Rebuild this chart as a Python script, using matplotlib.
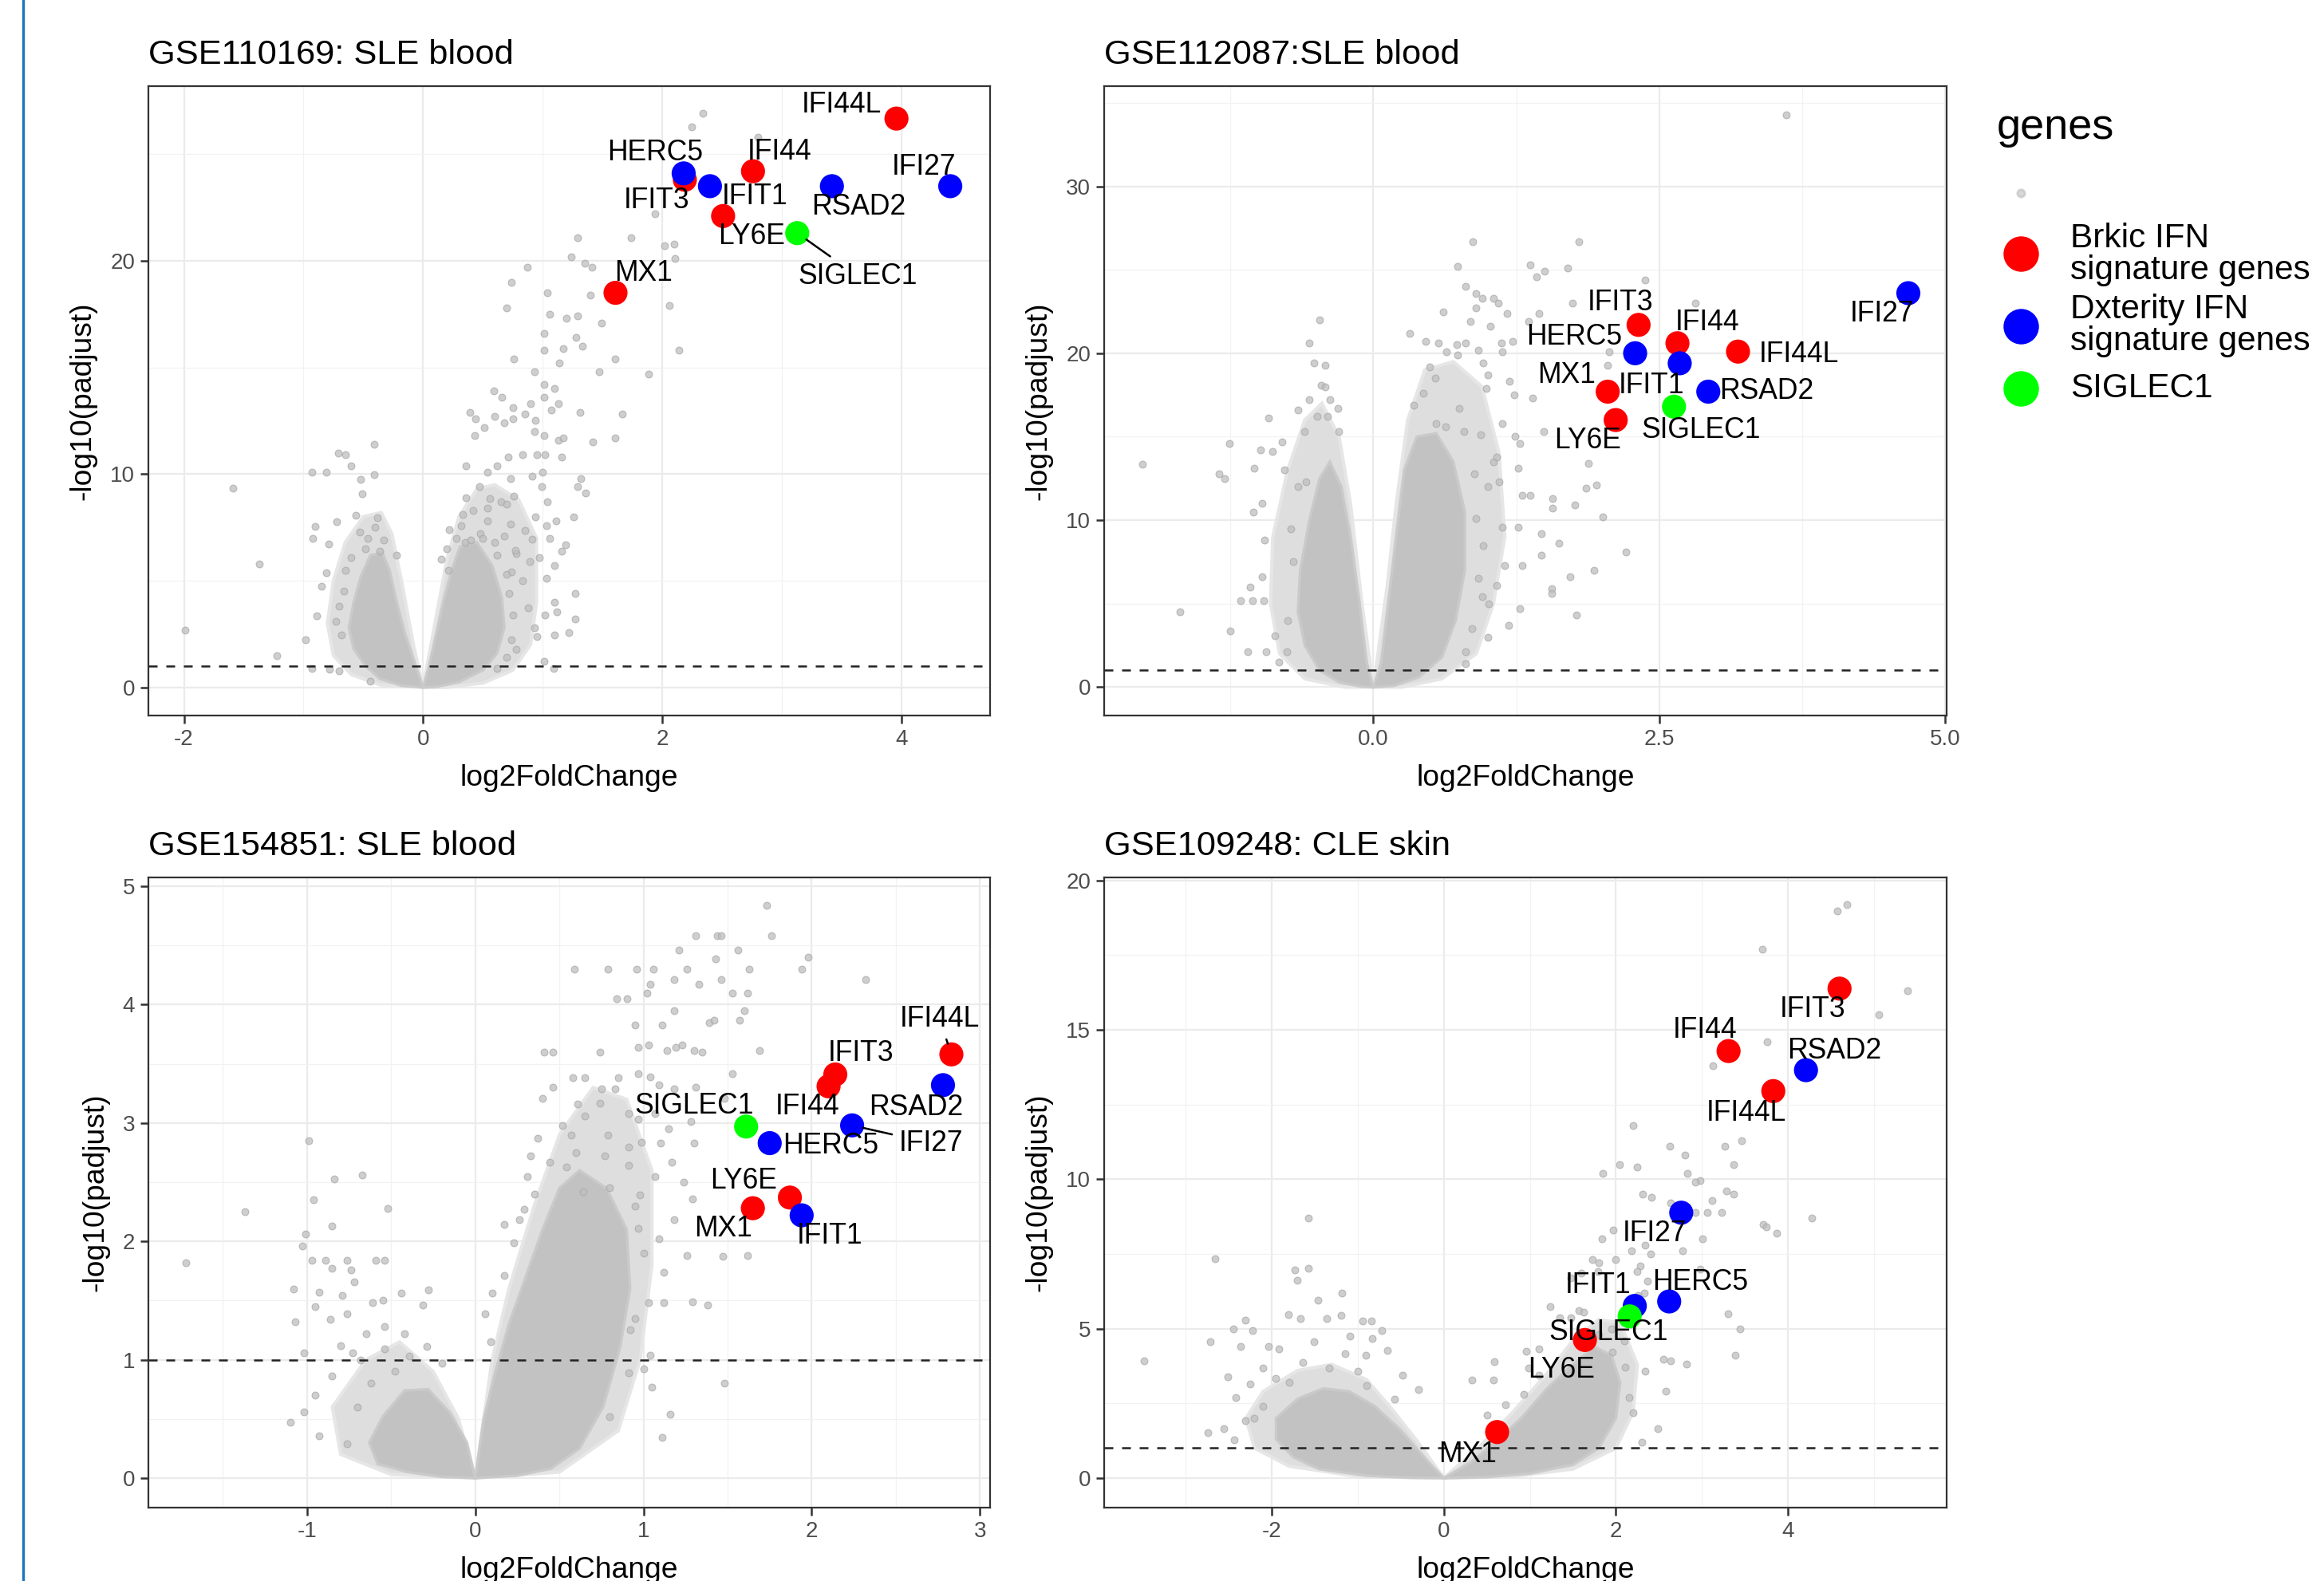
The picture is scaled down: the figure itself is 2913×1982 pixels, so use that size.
import matplotlib
matplotlib.use('Agg')
import matplotlib.pyplot as plt
from matplotlib.lines import Line2D

plt.rcParams['font.family'] = ['Liberation Sans', 'DejaVu Sans']

# ---- data ----
genes = ['IFI44L', 'IFI44', 'IFIT3', 'LY6E', 'MX1',
         'HERC5', 'IFIT1', 'RSAD2', 'IFI27', 'SIGLEC1']
gene_group = ['Brkic', 'Brkic', 'Brkic', 'Brkic', 'Brkic',
              'Dxterity', 'Dxterity', 'Dxterity', 'Dxterity', 'SIGLEC1']
group_names = ['Brkic', 'Dxterity', 'SIGLEC1']
group_labels = ['Brkic IFN\nsignature genes', 'Dxterity IFN\nsignature genes', 'SIGLEC1']

titles = ['GSE110169: SLE blood', 'GSE112087:SLE blood',
          'GSE154851: SLE blood', 'GSE109248: CLE skin']

# highlighted genes, same order as `genes`
p1_lfc = [3.96, 2.76, 2.19, 2.51, 1.61, 2.18, 2.40, 3.42, 4.41, 3.13]
p1_padj = [26.67, 24.2, 23.8, 22.1, 18.5, 24.1, 23.5, 23.5, 23.5, 21.3]
p2_lfc = [3.19, 2.66, 2.32, 2.12, 2.05, 2.29, 2.68, 2.93, 4.68, 2.63]
p2_padj = [20.1, 20.6, 21.7, 16.0, 17.7, 20.0, 19.4, 17.7, 23.6, 16.8]
p3_lfc = [2.83, 2.10, 2.14, 1.87, 1.65, 1.75, 1.94, 2.78, 2.24, 1.61]
p3_padj = [3.58, 3.31, 3.41, 2.37, 2.28, 2.83, 2.22, 3.32, 2.98, 2.97]
p4_lfc = [3.83, 3.31, 4.60, 1.64, 0.62, 2.62, 2.22, 4.21, 2.76, 2.16]
p4_padj = [12.95, 14.29, 16.38, 4.62, 1.54, 5.91, 5.76, 13.65, 8.88, 5.41]

# dense core of the grey cloud (outline of the left and right lobes)
p1_core_l = [(0, 0), (-0.06, 1.0), (-0.15, 2.5), (-0.22, 4.0), (-0.28, 5.5), (-0.34, 6.3),
             (-0.44, 6.2), (-0.52, 5.2), (-0.58, 4.0), (-0.62, 2.8), (-0.58, 1.8),
             (-0.48, 1.0), (-0.36, 0.4), (-0.18, 0.08)]
p1_core_r = [(0, 0), (0.05, 1.0), (0.11, 2.5), (0.17, 4.0), (0.24, 5.5), (0.31, 6.6),
             (0.45, 6.8), (0.58, 5.7), (0.66, 4.2), (0.68, 2.8), (0.62, 1.6),
             (0.5, 0.8), (0.3, 0.25), (0.12, 0.03)]
p2_core_l = [(0, 0), (-0.06, 1.5), (-0.12, 5.0), (-0.2, 9.0), (-0.28, 12.0), (-0.38, 13.5),
             (-0.47, 12.5), (-0.56, 10.0), (-0.64, 7.0), (-0.66, 4.5), (-0.6, 2.5),
             (-0.47, 1.0), (-0.3, 0.3), (-0.12, 0.05)]
p2_core_r = [(0, 0), (0.07, 1.5), (0.13, 5.0), (0.2, 9.0), (0.27, 13.0), (0.38, 15.0),
             (0.55, 15.2), (0.7, 13.5), (0.8, 10.5), (0.8, 7.0), (0.72, 4.0),
             (0.6, 1.8), (0.4, 0.6), (0.18, 0.08)]
p3_core_l = [(0, 0), (-0.05, 0.3), (-0.15, 0.55), (-0.28, 0.75), (-0.42, 0.74), (-0.55, 0.52),
             (-0.63, 0.3), (-0.58, 0.12), (-0.4, 0.05), (-0.2, 0.01)]
p3_core_r = [(0, 0), (0.05, 0.5), (0.12, 0.9), (0.2, 1.3), (0.3, 1.7), (0.4, 2.1), (0.5, 2.45),
             (0.62, 2.6), (0.78, 2.45), (0.9, 2.1), (0.92, 1.6), (0.86, 1.1), (0.76, 0.6),
             (0.62, 0.25), (0.45, 0.08), (0.25, 0.02)]
p4_core_l = [(0, 0), (-0.2, 0.6), (-0.5, 1.6), (-0.8, 2.4), (-1.1, 2.9), (-1.4, 3.0),
             (-1.7, 2.65), (-1.95, 2.0), (-1.95, 1.3), (-1.75, 0.7), (-1.45, 0.3),
             (-0.9, 0.08), (-0.4, 0.01)]
p4_core_r = [(0, 0), (0.3, 0.5), (0.6, 1.2), (0.9, 2.0), (1.2, 3.0), (1.5, 3.8), (1.75, 4.4),
             (1.95, 4.1), (2.05, 3.2), (2.0, 2.0), (1.8, 1.0), (1.5, 0.45), (1.0, 0.15),
             (0.5, 0.03)]

# medium-density zone around each core
p1_halo_l = [(0, 0), (-0.08, 2.0), (-0.18, 5.0), (-0.26, 7.2), (-0.35, 8.2), (-0.5, 8.0),
             (-0.65, 6.8), (-0.75, 5.0), (-0.8, 3.0), (-0.75, 1.5), (-0.6, 0.6), (-0.35, 0.1)]
p1_halo_r = [(0, 0), (0.1, 3.0), (0.2, 6.0), (0.3, 8.0), (0.45, 9.3), (0.6, 9.5), (0.8, 8.8),
             (0.95, 7.0), (0.95, 4.0), (0.9, 2.0), (0.75, 0.8), (0.5, 0.2), (0.2, 0)]
p2_halo_l = [(0, 0), (-0.1, 5.0), (-0.2, 11.0), (-0.3, 15.0), (-0.45, 17.0), (-0.6, 16.0),
             (-0.75, 13.0), (-0.88, 9.0), (-0.9, 5.0), (-0.82, 2.0), (-0.6, 0.5), (-0.25, 0)]
p2_halo_r = [(0, 0), (0.12, 6.0), (0.2, 11.0), (0.3, 16.0), (0.45, 19.0), (0.7, 19.5),
             (0.95, 18.0), (1.1, 14.0), (1.15, 9.0), (1.05, 5.0), (0.9, 2.0), (0.6, 0.5),
             (0.25, 0)]
p3_halo_l = [(0, 0), (-0.1, 0.5), (-0.25, 0.9), (-0.45, 1.15), (-0.65, 1.0), (-0.85, 0.6),
             (-0.8, 0.2), (-0.5, 0.03)]
p3_halo_r = [(0, 0), (0.1, 1.0), (0.2, 1.6), (0.35, 2.3), (0.5, 2.9), (0.7, 3.3), (0.9, 3.2),
             (1.05, 2.6), (1.05, 1.8), (0.98, 1.0), (0.85, 0.4), (0.5, 0.05)]
p4_halo_l = [(0, 0), (-0.3, 1.2), (-0.6, 2.3), (-0.9, 3.3), (-1.3, 3.8), (-1.7, 3.6),
             (-2.1, 2.9), (-2.3, 2.0), (-2.2, 1.0), (-1.8, 0.4), (-1.0, 0.05)]
p4_halo_r = [(0, 0), (0.4, 1.0), (0.8, 2.2), (1.2, 3.5), (1.5, 4.6), (1.8, 5.3), (2.05, 5.2),
             (2.25, 3.8), (2.2, 2.2), (2.0, 1.0), (1.5, 0.3), (0.8, 0.05)]

# sparse grey genes outside the dense core
p1_bg = [(-1.99, 2.7), (-1.59, 9.34), (-1.37, 5.79), (-1.22, 1.47), (-0.98, 2.25), (-0.93, 10.1),
         (-0.81, 10.07), (-0.71, 11.0), (-0.65, 10.9), (-0.60, 10.4), (-0.41, 11.4), (-0.41, 9.96),
         (-0.52, 9.76), (-0.51, 9.09), (-0.56, 8.05), (-0.90, 7.56), (-0.72, 7.77), (-0.38, 7.94),
         (-0.92, 7.0), (-0.79, 6.74), (-0.89, 3.37), (-0.85, 4.75), (-0.81, 5.37), (-0.93, 0.88),
         (-0.78, 0.84), (-0.70, 0.77), (-0.44, 0.28), (-0.22, 6.18), (-0.68, 2.46), (-0.73, 3.09),
         (-0.53, 7.3), (-0.46, 7.0), (-0.40, 7.5), (-0.33, 6.9), (-0.48, 6.5), (-0.36, 6.4),
         (-0.60, 6.1), (-0.65, 5.5), (-0.66, 4.5), (-0.70, 3.8),
         (0.36, 10.4), (0.39, 12.9), (0.44, 12.6), (0.51, 12.2), (0.43, 11.8), (0.59, 13.9),
         (0.66, 13.6), (0.60, 12.7), (0.68, 12.4), (0.75, 13.1), (0.75, 12.6), (0.85, 12.8),
         (0.90, 13.3), (0.94, 12.5), (0.93, 12.0), (1.01, 11.8), (1.07, 13.0), (1.13, 13.3),
         (1.10, 14.0), (1.01, 14.2), (1.01, 13.6), (0.93, 14.8), (0.76, 15.4), (1.01, 15.8),
         (1.14, 15.2), (1.17, 15.9), (1.28, 16.4), (1.33, 16.0), (1.47, 14.8), (1.61, 15.4),
         (1.89, 14.7), (2.14, 15.8), (1.01, 16.6), (1.06, 17.5), (1.20, 17.3), (1.29, 17.4),
         (1.49, 17.1), (0.70, 17.8), (1.04, 18.5), (1.40, 18.4), (0.74, 19.0), (0.87, 19.7),
         (1.24, 20.2), (1.35, 19.9), (1.41, 19.7), (2.06, 17.9), (2.11, 20.1), (2.02, 20.7),
         (2.34, 26.9), (2.25, 26.3), (2.80, 25.8), (1.94, 22.2), (1.29, 21.1), (1.74, 21.1),
         (2.10, 20.8), (1.31, 12.9), (1.67, 12.8), (1.42, 11.5), (1.61, 11.7), (1.13, 11.6),
         (1.17, 11.7), (0.71, 10.8), (0.95, 10.9), (1.02, 10.9), (1.16, 10.8), (0.83, 10.9),
         (1.00, 10.1), (0.91, 9.9), (0.54, 10.1), (0.62, 10.4), (0.73, 9.8), (0.99, 9.4),
         (1.32, 9.8), (1.29, 9.4), (1.36, 9.1), (1.26, 8.0), (1.04, 8.7), (0.94, 8.0),
         (1.11, 7.8), (1.03, 7.6), (1.06, 7.0), (1.19, 6.7), (1.16, 6.4), (0.97, 6.1),
         (0.89, 5.9), (1.10, 5.7), (1.03, 5.1), (1.27, 4.4), (1.10, 4.0), (1.12, 3.55),
         (1.02, 3.4), (1.27, 3.2), (1.22, 2.56), (1.10, 2.46), (0.95, 2.37), (0.93, 2.81),
         (1.01, 1.22), (1.09, 0.88), (0.78, 1.78), (0.74, 2.25), (0.88, 3.72), (0.83, 4.99),
         (0.74, 5.4), (0.78, 6.28), (0.85, 7.37), (0.91, 6.95), (0.77, 6.42), (0.73, 7.65),
         (0.56, 8.85), (0.36, 8.9), (0.47, 9.4), (0.54, 8.4), (0.65, 8.7), (0.70, 8.6),
         (0.76, 8.96), (0.33, 8.1), (0.42, 8.3), (0.22, 7.4), (0.32, 7.6), (0.21, 5.5),
         (0.54, 7.8), (0.60, 6.8), (0.68, 7.1), (0.35, 6.8), (0.48, 7.2), (0.15, 6.0),
         (0.20, 6.5), (0.28, 7.0), (0.40, 6.9), (0.50, 7.0), (0.62, 6.2), (0.70, 5.3),
         (0.72, 4.4), (0.75, 3.4), (0.70, 1.4), (0.62, 0.9)]
p2_bg = [(-2.02, 13.36), (-1.69, 4.53), (-1.35, 12.8), (-1.30, 12.5), (-1.26, 14.6), (-1.25, 3.36),
         (-1.16, 5.2), (-1.05, 10.5), (-0.97, 11.0), (-0.95, 8.8), (-0.99, 14.2), (-0.92, 16.1),
         (-0.88, 14.1), (-0.80, 14.7), (-0.78, 13.0), (-1.04, 13.1), (-0.66, 16.6), (-0.60, 15.3),
         (-0.56, 20.6), (-0.52, 19.4), (-0.42, 19.3), (-0.47, 22.0), (-0.46, 18.1), (-0.42, 18.0),
         (-0.56, 17.2), (-0.38, 17.2), (-0.31, 16.7), (-0.49, 16.2), (-0.40, 16.2), (-0.30, 15.3),
         (-0.97, 6.6), (-0.96, 5.2), (-1.08, 6.0), (-1.10, 2.1), (-0.94, 2.1), (-0.83, 1.5),
         (-0.76, 2.1), (-0.86, 3.1), (-0.66, 12.0), (-0.59, 12.3), (-1.06, 5.2), (-0.72, 9.5),
         (-0.70, 7.5), (-0.75, 4.0),
         (0.87, 26.7), (0.74, 25.2), (0.81, 24.0), (0.90, 23.6), (0.95, 23.3), (1.05, 23.3),
         (1.09, 23.0), (0.90, 22.7), (0.61, 22.5), (0.85, 21.9), (1.02, 21.6), (1.17, 22.4),
         (0.32, 21.2), (0.46, 20.7), (0.57, 20.6), (0.64, 20.1), (0.73, 20.5), (0.81, 20.6),
         (0.92, 20.2), (1.12, 20.6), (1.13, 20.1), (1.22, 20.7), (1.36, 21.9), (1.45, 22.4),
         (1.37, 25.3), (1.43, 24.6), (1.50, 24.9), (1.70, 25.1), (1.80, 26.7), (1.74, 23.0),
         (2.38, 24.4), (2.82, 23.0), (2.05, 19.3), (2.06, 20.1), (0.49, 19.2), (0.54, 18.5),
         (0.74, 19.9), (0.96, 19.4), (1.00, 18.7), (1.19, 18.3), (1.23, 17.5), (1.39, 17.3),
         (0.99, 17.9), (0.75, 16.7), (0.35, 16.9), (0.44, 17.6), (0.55, 15.8), (0.63, 15.6),
         (0.79, 15.3), (0.94, 15.1), (1.13, 15.8), (1.24, 15.0), (1.49, 15.3), (1.28, 14.6),
         (1.88, 13.4), (1.86, 11.9), (1.95, 12.1), (2.01, 10.2), (1.76, 10.9), (1.57, 11.3),
         (1.57, 10.7), (1.37, 11.5), (1.47, 9.2), (1.62, 8.6), (1.47, 7.9), (2.21, 8.1),
         (1.93, 7.0), (1.72, 6.6), (1.56, 5.9), (1.56, 5.6), (1.78, 4.3), (1.28, 4.7),
         (1.18, 3.7), (1.13, 9.6), (1.27, 9.6), (1.15, 7.3), (1.30, 7.3), (1.01, 5.0),
         (0.95, 5.4), (1.08, 6.1), (1.00, 3.0), (0.81, 1.4), (0.81, 2.1), (1.00, 12.0),
         (1.10, 12.3), (1.05, 13.5), (1.08, 13.8), (1.27, 13.1), (1.30, 11.5), (0.96, 8.5),
         (0.90, 10.1), (3.61, 34.3), (0.88, 12.8), (0.92, 6.5), (0.86, 3.5)]
p3_bg = [(-1.72, 1.82), (-1.37, 2.25), (-0.99, 2.85), (-0.84, 2.53), (-0.67, 2.56), (-0.52, 2.28),
         (-0.96, 2.35), (-0.85, 2.13), (-1.01, 2.06), (-1.03, 1.96), (-0.97, 1.84), (-0.89, 1.84),
         (-0.76, 1.84), (-0.59, 1.84), (-0.54, 1.84), (-0.85, 1.77), (-0.74, 1.76), (-0.72, 1.66),
         (-1.08, 1.6), (-0.93, 1.57), (-0.79, 1.54), (-1.07, 1.32), (-0.95, 1.45), (-0.61, 1.48),
         (-0.55, 1.50), (-0.44, 1.56), (-0.28, 1.59), (-0.31, 1.46), (-0.86, 1.34), (-0.76, 1.39),
         (-1.10, 0.47), (-1.02, 0.56), (-0.93, 0.36), (-0.95, 0.70), (-0.80, 1.12), (-0.73, 1.06),
         (-0.65, 1.22), (-0.76, 0.29), (-1.02, 1.06), (-0.85, 0.86), (-0.68, 1.0), (-0.54, 1.09),
         (-0.39, 1.03), (-0.54, 1.28), (-0.42, 1.22), (-0.29, 1.11), (-0.20, 0.97), (-0.62, 0.8),
         (-0.48, 0.9), (-0.7, 0.6),
         (1.73, 4.84), (1.31, 4.58), (1.44, 4.58), (1.46, 4.58), (1.76, 4.58), (1.21, 4.46),
         (1.56, 4.46), (1.43, 4.39), (1.98, 4.40), (0.59, 4.30), (0.79, 4.30), (0.96, 4.30),
         (1.06, 4.30), (1.26, 4.30), (1.63, 4.30), (1.94, 4.30), (2.32, 4.21), (1.18, 4.21),
         (1.33, 4.17), (1.46, 4.21), (1.04, 4.17), (1.02, 4.10), (1.53, 4.10), (1.62, 4.10),
         (0.84, 4.05), (0.90, 4.05), (1.60, 3.95), (0.95, 3.83), (1.11, 3.83), (1.18, 3.95),
         (1.39, 3.85), (1.57, 3.87), (1.69, 3.61), (1.42, 3.87), (0.97, 3.64), (1.03, 3.66),
         (1.19, 3.64), (1.23, 3.66), (1.30, 3.61), (1.35, 3.60), (0.41, 3.60), (0.46, 3.60),
         (0.74, 3.60), (1.14, 3.61), (1.53, 3.42), (0.97, 3.42), (1.04, 3.39), (0.85, 3.38),
         (0.58, 3.38), (0.65, 3.38), (0.75, 3.29), (0.83, 3.29), (1.09, 3.32), (1.18, 3.29),
         (1.31, 3.30), (1.48, 3.21), (0.46, 3.30), (0.40, 3.21), (0.61, 3.16), (0.74, 3.17),
         (0.91, 3.08), (0.97, 3.03), (1.07, 3.08), (1.15, 2.95), (1.28, 3.01), (1.30, 2.83),
         (1.10, 2.83), (0.65, 3.06), (0.52, 2.98), (0.37, 2.87), (0.57, 2.90), (0.79, 2.90),
         (0.91, 2.80), (0.99, 2.84), (0.33, 2.72), (0.44, 2.67), (0.54, 2.63), (0.77, 2.72),
         (0.91, 2.64), (1.07, 2.55), (1.17, 2.67), (1.24, 2.50), (1.29, 2.36), (0.98, 2.39),
         (0.80, 2.45), (0.64, 2.42), (0.31, 2.55), (0.29, 2.27), (0.26, 2.18), (0.17, 2.14),
         (0.23, 1.99), (0.97, 2.11), (1.09, 2.02), (1.18, 2.18), (1.26, 1.88), (1.47, 1.87),
         (1.62, 1.88), (1.12, 1.74), (1.03, 1.48), (1.12, 1.48), (1.29, 1.49), (1.38, 1.46),
         (0.95, 1.35), (0.92, 1.25), (0.09, 1.15), (0.06, 1.39), (0.10, 1.56), (0.17, 1.71),
         (1.04, 1.04), (1.48, 0.80), (1.05, 0.77), (1.16, 0.54), (1.11, 0.34), (0.80, 0.52),
         (0.91, 0.89), (1.00, 0.92), (0.95, 2.3), (1.0, 1.9), (0.35, 2.4), (0.6, 2.75)]
p4_bg = [(-3.48, 3.92), (-2.66, 7.35), (-1.73, 6.97), (-1.57, 7.03), (-1.70, 6.62), (-1.57, 8.69),
         (-1.46, 5.95), (-1.18, 6.18), (-2.71, 4.57), (-2.51, 3.40), (-2.45, 5.0), (-2.31, 5.29),
         (-2.22, 4.94), (-1.81, 5.47), (-1.67, 5.33), (-1.36, 5.35), (-1.19, 5.44), (-0.94, 5.27),
         (-0.84, 5.27), (-0.72, 4.94), (-0.83, 4.68), (-1.09, 4.74), (-2.04, 4.41), (-1.92, 4.33),
         (-2.36, 4.39), (-0.66, 4.27), (-0.91, 4.12), (-1.15, 4.16), (-1.51, 4.57), (-2.74, 1.52),
         (-2.56, 1.64), (-2.44, 1.29), (-2.31, 1.93), (-2.42, 2.69), (-2.25, 3.16), (-2.10, 3.69),
         (-1.95, 3.34), (-1.64, 3.86), (-1.33, 3.69), (-1.0, 3.57), (-0.48, 3.45), (-0.29, 2.95),
         (-0.57, 2.63), (-2.1, 2.4), (-1.8, 3.2), (-2.2, 2.0), (-0.9, 3.1),
         (4.69, 19.2), (4.57, 18.97), (3.70, 17.7), (5.39, 16.3), (5.06, 15.5), (3.76, 14.6),
         (3.13, 13.8), (2.20, 11.8), (2.63, 11.1), (3.27, 11.1), (3.46, 11.3), (2.80, 10.8),
         (3.37, 10.5), (2.04, 10.5), (2.25, 10.4), (1.85, 10.2), (2.83, 10.2), (2.98, 9.95),
         (2.92, 9.9), (3.29, 9.6), (3.37, 9.5), (2.31, 9.5), (2.41, 9.4), (2.64, 9.2),
         (3.06, 8.9), (3.23, 8.9), (3.12, 9.3), (2.92, 8.9), (3.71, 8.5), (3.75, 8.4),
         (3.87, 8.2), (4.28, 8.7), (3.01, 8.0), (1.84, 8.0), (1.97, 8.3), (2.18, 7.6),
         (2.34, 7.8), (2.40, 7.5), (2.78, 7.6), (1.73, 7.3), (1.80, 7.2), (2.00, 7.3),
         (2.28, 7.1), (2.98, 7.0), (2.25, 6.9), (1.60, 6.85), (1.79, 6.9), (1.48, 6.7),
         (2.37, 6.6), (2.26, 6.1), (2.33, 6.2), (3.30, 5.5), (3.44, 5.0), (3.39, 4.1),
         (1.57, 5.6), (1.63, 5.56), (1.24, 5.74), (1.35, 5.36), (1.48, 5.36), (2.18, 5.15),
         (2.55, 3.98), (2.64, 3.92), (2.82, 3.81), (2.58, 2.9), (2.34, 3.57), (2.15, 2.69),
         (2.49, 1.64), (2.11, 3.72), (1.96, 4.22), (0.59, 3.89), (0.58, 3.28), (0.96, 4.24),
         (1.11, 4.33), (0.33, 3.28), (0.50, 2.11), (0.72, 2.46), (0.93, 2.81), (1.11, 3.45),
         (0.99, 3.69), (1.8, 4.8), (1.95, 5.0), (2.1, 4.6), (2.2, 2.2), (2.3, 1.2)]

# ---- layout (figure pixels) ----
W, H, DPI = 2913, 1982, 200
boxes = [(186, 1241, 108, 897), (1384, 2440, 108, 897),
         (186, 1241, 1100, 1890), (1384, 2440, 1100, 1890)]
xlims = [(-2.297, 4.743), (-2.355, 5.015), (-1.943, 3.06), (-3.948, 5.845)]
ylims = [(-1.32, 28.19), (-1.7, 36.0), (-0.25, 5.075), (-0.99, 20.1)]
xticks = [[-2, 0, 2, 4], [0, 2.5, 5.0], [-1, 0, 1, 2, 3], [-2, 0, 2, 4]]
xticklabels = [['-2', '0', '2', '4'], ['0.0', '2.5', '5.0'],
               ['-1', '0', '1', '2', '3'], ['-2', '0', '2', '4']]
xminor = [[-1, 1, 3], [-1.25, 1.25, 3.75], [-1.5, -0.5, 0.5, 1.5, 2.5], [-3, -1, 1, 3, 5]]
yticks = [[0, 10, 20], [0, 10, 20, 30], [0, 1, 2, 3, 4, 5], [0, 5, 10, 15, 20]]
yminor = [[5, 15, 25], [5, 15, 25, 35], [0.5, 1.5, 2.5, 3.5, 4.5], [2.5, 7.5, 12.5, 17.5]]

# label offsets (reference pixels, dx right / dy up) per gene, and labels with a segment
S = 0.669
label_off = [
    [(-37, 9), (18, 13), (-19, -14), (19, -14), (19, 13), (-19, 14), (30, -7), (18, -14), (-18, 13), (41, -29)],
    [(41, -2), (20, 14), (-12, 15), (-19, -14), (-28, 11), (-41, 11), (-19, -15), (39, 0), (-18, -14), (18, -16)],
    [(-8, 24), (-14, -14), (17, 14), (-31, 11), (-20, -14), (41, -2), (19, -14), (-18, -15), (53, -12), (-35, 14)],
    [(-18, -15), (-16, 14), (-18, -14), (-16, -20), (-20, -15), (21, 13), (-25, 14), (19, 13), (-18, -14), (-14, -11)],
]
segments = [{'SIGLEC1'}, set(), {'IFI44L', 'IFI27'}, set()]

colors = {'Brkic': '#FF0000', 'Dxterity': '#0000FF', 'SIGLEC1': '#00FF00'}
grey = '#BEBEBE'

panel_lfc = [p1_lfc, p2_lfc, p3_lfc, p4_lfc]
panel_padj = [p1_padj, p2_padj, p3_padj, p4_padj]
panel_bg = [p1_bg, p2_bg, p3_bg, p4_bg]
panel_core = [(p1_core_l, p1_core_r), (p2_core_l, p2_core_r),
              (p3_core_l, p3_core_r), (p4_core_l, p4_core_r)]
panel_halo = [(p1_halo_l, p1_halo_r), (p2_halo_l, p2_halo_r),
              (p3_halo_l, p3_halo_r), (p4_halo_l, p4_halo_r)]

fig = plt.figure(figsize=(W / DPI, H / DPI), dpi=DPI)

for i in range(4):
    l, r, t, b = boxes[i]
    ax = fig.add_axes([l / W, 1 - b / H, (r - l) / W, (b - t) / H])
    ax.set_xlim(*xlims[i])
    ax.set_ylim(*ylims[i])

    # grid like theme_bw
    ax.set_xticks(xticks[i])
    ax.set_xticklabels(xticklabels[i])
    ax.set_yticks(yticks[i])
    ax.set_xticks(xminor[i], minor=True)
    ax.set_yticks(yminor[i], minor=True)
    ax.grid(which='major', color='#EBEBEB', lw=0.8)
    ax.grid(which='minor', color='#F2F2F2', lw=0.45)
    ax.set_axisbelow(True)
    ax.tick_params(which='minor', length=0)
    ax.tick_params(which='major', length=3.6, width=0.9, color='#333333',
                   labelcolor='#4D4D4D', labelsize=10, pad=2.5)
    for sp in ax.spines.values():
        sp.set_color('#333333')
        sp.set_linewidth(0.8)

    # grey cloud: medium zone, dense core, then single genes
    for halo in panel_halo[i]:
        hx, hy = zip(*halo)
        ax.fill(hx, hy, color='#DEDEDE', lw=1.5, ec='#E6E6E6', zorder=1.4)
    for core in panel_core[i]:
        cx, cy = zip(*core)
        ax.fill(cx, cy, color='#C2C2C2', lw=1.2, ec='#CACACA', zorder=1.5)
    bx, by = zip(*panel_bg[i])
    ax.scatter(bx, by, s=10, color=grey, alpha=0.75, edgecolors='#A8A8A8',
               linewidths=0.4, zorder=2)

    ax.axhline(1, color='#222222', lw=0.9, ls=(0, (4.4, 4.4)), zorder=2.6)

    # highlighted genes
    lfc, padj = panel_lfc[i], panel_padj[i]
    for g in group_names:
        idx = [k for k in range(len(genes)) if gene_group[k] == g]
        ax.scatter([lfc[k] for k in idx], [padj[k] for k in idx], s=118,
                   color=colors[g], edgecolors='none', zorder=3)

    for k, name in enumerate(genes):
        dx, dy = label_off[i][k]
        arrow = None
        if name in segments[i]:
            arrow = dict(arrowstyle='-', color='black', lw=0.9, shrinkA=1, shrinkB=5)
        ax.annotate(name, (lfc[k], padj[k]), xytext=(dx * S, dy * S),
                    textcoords='offset points', ha='center', va='center',
                    fontsize=12.8, color='black', arrowprops=arrow, zorder=4)

    ax.set_title(titles[i], loc='left', fontsize=15.6, pad=10.0, color='black')
    ax.set_xlabel('log2FoldChange', fontsize=13.4, labelpad=6.5)
    ax.set_ylabel('-log10(padjust)', fontsize=13.4, labelpad=6)

# legend drawn in figure pixels
def fx(x):
    return x / W


def fy(y):
    return 1 - y / H


fig.text(fx(2503), fy(160), 'genes', fontsize=19.5, ha='left', va='center')
fig.add_artist(Line2D([fx(2533)], [fy(242)], marker='o', ms=3.4, color=grey,
                      alpha=0.6, ls='none', transform=fig.transFigure))
key_y = [318, 409, 487]
text_y = [319, 408, 487]
for g, lab, ky, ty in zip(group_names, group_labels, key_y, text_y):
    fig.add_artist(Line2D([fx(2533)], [fy(ky)], marker='o', ms=16, color=colors[g],
                          mec='none', ls='none', transform=fig.transFigure))
    fig.text(fx(2595), fy(ty), lab, fontsize=15.2, ha='left', va='center',
             linespacing=0.98)

# blue edge line at the left of the screenshot
fig.add_artist(Line2D([fx(29), fx(29)], [0, 1], color='#1F74BB', lw=1.2,
                      transform=fig.transFigure))

fig.savefig('out.png', dpi=DPI)
